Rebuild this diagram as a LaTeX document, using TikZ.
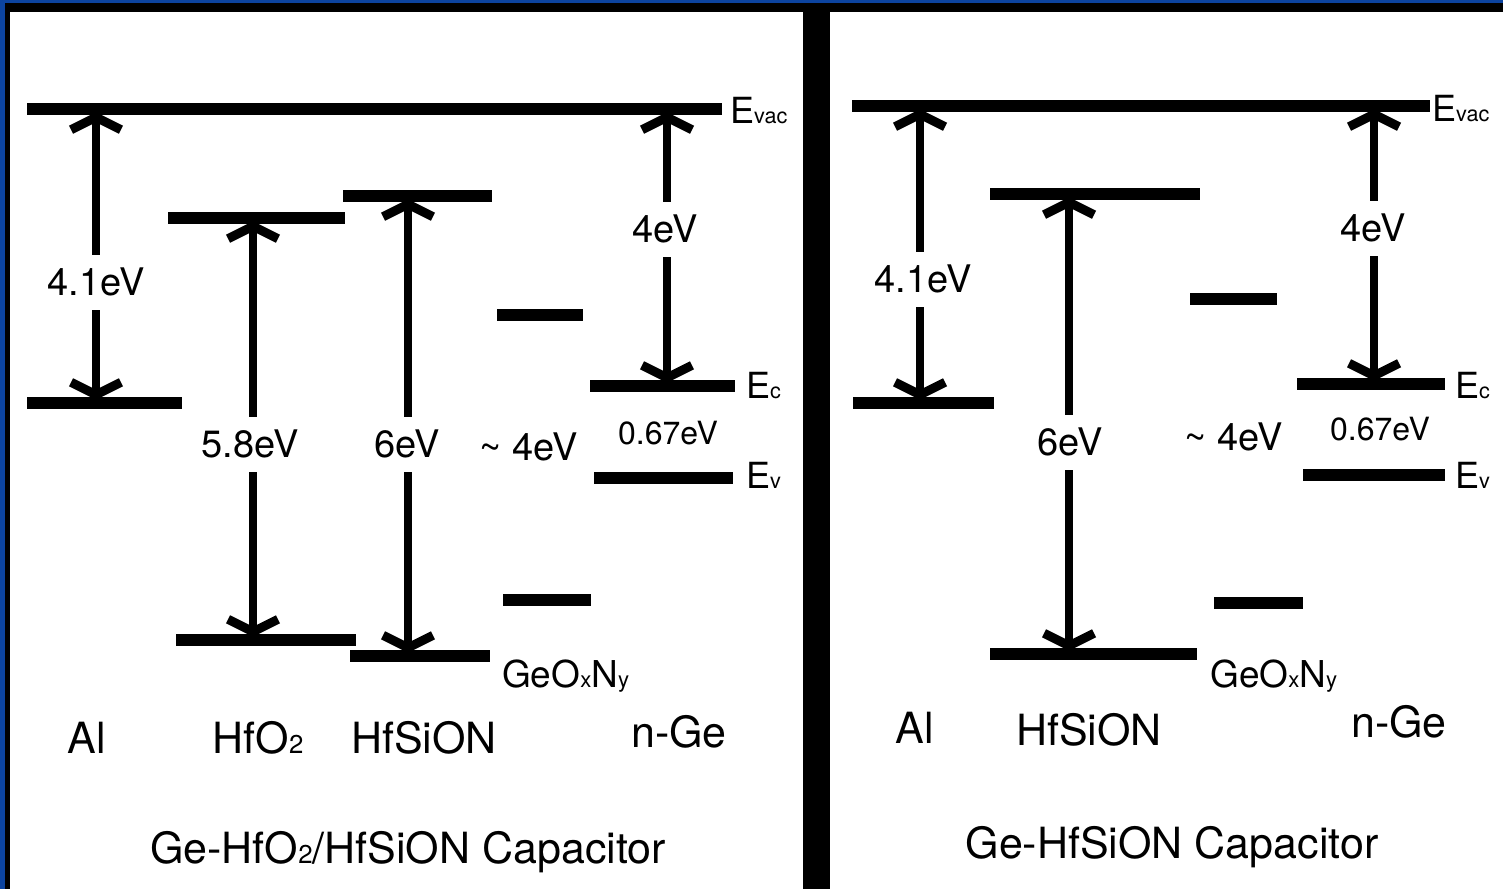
\documentclass[tikz,border=0pt]{standalone}
\usepackage{fontspec}
\setmainfont{TeX Gyre Heros}
\usepackage{graphicx}
\usetikzlibrary{arrows.meta}
\definecolor{frameblue}{RGB}{12,68,160}
\newcommand{\lsub}[1]{\scalebox{0.6}{#1}}
\begin{document}
\begin{tikzpicture}[x=1pt,y=-1pt,
  lvl/.style={rectangle, fill=black, draw=none, inner sep=0pt, minimum height=12pt},
  band/.style={line width=8pt, shorten <=-3pt, shorten >=-3pt, {Straight Barb[length=12.5pt,width=50pt,line width=9pt]}-{Straight Barb[length=12.5pt,width=50pt,line width=9pt]}},
  glab/.style={fill=white, inner xsep=2pt, inner ysep=14pt, text height=27pt, text depth=0pt, font=\fontsize{38}{40}\selectfont},
  slab/.style={inner sep=0pt, text height=23pt, text depth=0pt, font=\fontsize{32}{34}\selectfont},
  elab/.style={anchor=base west, inner sep=0pt, font=\fontsize{36}{38}\selectfont},
  mlab/.style={anchor=base, inner sep=0pt, font=\fontsize{43}{45}\selectfont},
  glabel/.style={anchor=base west, inner sep=0pt, font=\fontsize{37}{39}\selectfont}]
\useasboundingbox (0,0) rectangle (1503,889);
% frame
\fill[frameblue] (0,0) rectangle (1503,889);
\fill[black] (5,3) rectangle (1503,889);
\fill[white] (10,12) rectangle (803,889);
\fill[white] (830,12) rectangle (1503,889);

% ---------------- left panel ----------------
\node[lvl, minimum width=695pt] (evacL) at (374.5,109) {};
\node[lvl, minimum width=155pt] (alL) at (104.5,403) {};
\node[lvl, minimum width=177pt] (hfoT) at (256.5,218) {};
\node[lvl, minimum width=180pt] (hfoB) at (266,640) {};
\node[lvl, minimum width=149pt] (hsT) at (417.5,196) {};
\node[lvl, minimum width=140pt] (hsB) at (420,656) {};
\node[lvl, minimum width=86pt] (gT) at (540,315) {};
\node[lvl, minimum width=88pt] (gB) at (547,600) {};
\node[lvl, minimum width=145pt] (ecL) at (662.5,386) {};
\node[lvl, minimum width=139pt] (evL) at (663.5,478) {};

\coordinate (axAl) at (96,0);
\coordinate (axHfo) at (253,0);
\coordinate (axHs) at (408,0);
\coordinate (axGe) at (667,0);

\draw[band] (axAl |- evacL.south) -- (axAl |- alL.north);
\draw[band] (axHfo |- hfoT.south) -- (axHfo |- hfoB.north);
\draw[band] (axHs |- hsT.south) -- (axHs |- hsB.north);
\draw[band] (axGe |- evacL.south) -- (axGe |- ecL.north);

\node[glab] (l41) at (96,282) {4.1eV};
\node[glab] (l58) at (250,444) {5.8eV};
\node[glab] (l6) at (407,444) {6eV};
\node[glab] (l4a) at (529,447) {\textasciitilde{} 4eV};
\node[glab] (l4) at (665,229) {4eV};
\node[slab] (l067) at (668,433) {0.67eV};

\node[elab] (evacLt) at (730,123) {E\lsub{vac}};
\node[elab] (ecLt) at (746,398) {E\lsub{c}};
\node[elab] (evLt) at (746,488) {E\lsub{v}};
\node[glabel] (geoL) at (502,687) {GeO\lsub{x}N\lsub{y}};

\node[mlab] (alLt) at (87,753) {Al};
\node[mlab] (hfoLt) at (258,753) {HfO\lsub{2}};
\node[mlab] (hsLt) at (424,753) {HfSiON};
\node[mlab] (geLt) at (679,747) {n-Ge};
\node[mlab] (capL) at (408,863) {Ge-HfO\lsub{2}/HfSiON Capacitor};

% ---------------- right panel ----------------
\node[lvl, minimum width=578pt] (evacR) at (1141,106) {};
\node[lvl, minimum width=141pt] (alR) at (923.5,403) {};
\node[lvl, minimum width=210pt] (hsTR) at (1095,194) {};
\node[lvl, minimum width=207pt] (hsBR) at (1093.5,654) {};
\node[lvl, minimum width=87pt] (gTR) at (1233.5,299) {};
\node[lvl, minimum width=89pt] (gBR) at (1258.5,603) {};
\node[lvl, minimum width=148pt] (ecR) at (1371,384) {};
\node[lvl, minimum width=142pt] (evR) at (1374,475) {};

\coordinate (bxAl) at (920,0);
\coordinate (bxHs) at (1069,0);
\coordinate (bxGe) at (1374,0);

\draw[band] (bxAl |- evacR.south) -- (bxAl |- alR.north);
\draw[band] (bxHs |- hsTR.south) -- (bxHs |- hsBR.north);
\draw[band] (bxGe |- evacR.south) -- (bxGe |- ecR.north);

\node[glab] (r41) at (923,279) {4.1eV};
\node[glab] (r6) at (1070,442) {6eV};
\node[glab] (r4a) at (1234,437) {\textasciitilde{} 4eV};
\node[glab] (r4) at (1373,228) {4eV};
\node[slab] (r067) at (1380,429) {0.67eV};

\node[elab] (evacRt) at (1432,121) {E\lsub{vac}};
\node[elab] (ecRt) at (1455,398) {E\lsub{c}};
\node[elab] (evRt) at (1455,488) {E\lsub{v}};
\node[glabel] (geoR) at (1210,687) {GeO\lsub{x}N\lsub{y}};

\node[mlab] (alRt) at (915,743) {Al};
\node[mlab] (hsRt) at (1089,745) {HfSiON};
\node[mlab] (geRt) at (1399,737) {n-Ge};
\node[mlab] (capR) at (1172,858) {Ge-HfSiON Capacitor};
\end{tikzpicture}
\end{document}
